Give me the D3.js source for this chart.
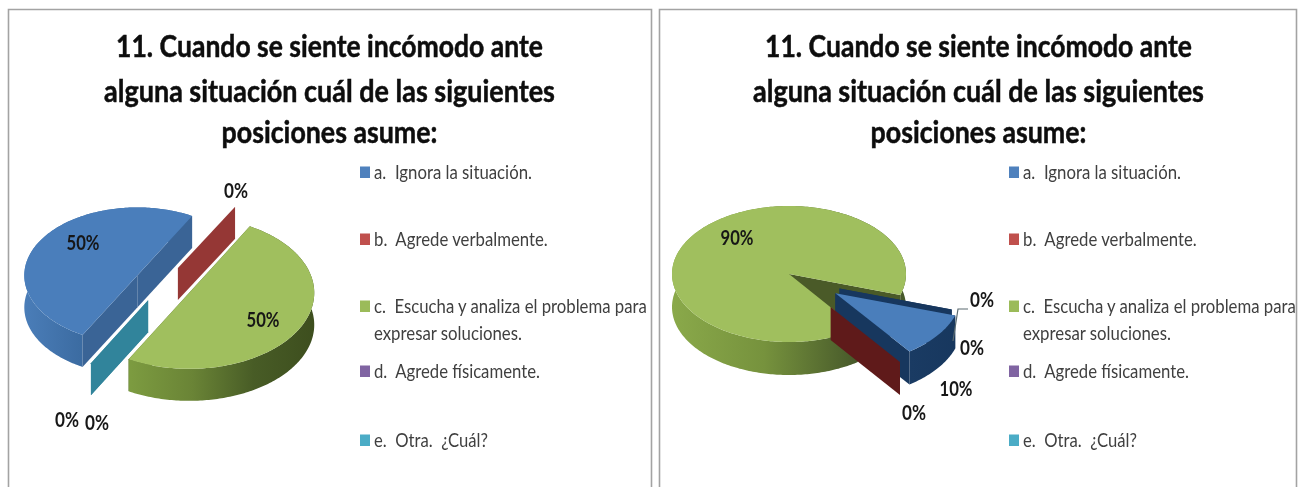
<!DOCTYPE html>
<html><head><meta charset="utf-8">
<script src="https://cdn.jsdelivr.net/npm/d3@7/dist/d3.min.js"></script>
<style>html,body{margin:0;padding:0;background:#fff}svg{display:block}text{font-family:Lato,"Open Sans",sans-serif;white-space:pre}</style>
</head><body><svg id="c" width="1304" height="487"></svg>
<script>
// ---------- data ----------
const titleLines = ["11. Cuando se siente incómodo ante","alguna situación cuál de las siguientes","posiciones asume:"];
const categories = ["a.  Ignora la situación.","b.  Agrede verbalmente.","c.  Escucha y analiza el problema para","d.  Agrede físicamente.","e.  Otra.  ¿Cuál?"];
const categoryContinuation = "expresar soluciones.";
const valuesLeft  = [50,0,50,0,0];
const valuesRight = [10,0,90,0,0];

// ---------- style and layout ----------
const topColors = ["#4a7ebb","#a52f2c","#a0bf5e","#8064a2","#31859c"];
const legendColors = ["#4f81bd","#c0504d","#9bbb59","#8064a2","#4bacc6"];
const svg = d3.select("#c");
const defs = svg.append("defs");
const blur = defs.append("filter").attr("id","soft").attr("x","-5%").attr("y","-20%").attr("width","110%").attr("height","140%");
blur.append("feGaussianBlur").attr("stdDeviation",0.45);

const rad = d => d*Math.PI/180;
const pct = d => d+"%";

function gradient(id,x1,x2,stops){
  const g = defs.append("linearGradient").attr("id",id).attr("gradientUnits","userSpaceOnUse")
    .attr("x1",x1).attr("x2",x2).attr("y1",0).attr("y2",0);
  stops.forEach((c,i)=>g.append("stop").attr("offset",i/(stops.length-1)).attr("stop-color",c));
  return `url(#${id})`;
}

// squeeze a text horizontally to the wanted width, keeping its real extent in the picture
function fit(sel,x,y,width){
  const n = sel.node().getComputedTextLength();
  sel.attr("transform",`translate(${x},${y}) scale(${width/n},1)`);
  return sel;
}

const charts = [
 {values:valuesLeft, first:209, cx:163, cy:284, depth:32, dx:0,
  explode:[.26,.26,.24,.26,.26], nudge:[0,0,0,0,0], rx:[113,118,125,118,118], ry:[68,70,76,72,72],
  order:[0,1,2,3,4],
  wall:["#3a6496","#953735","#4f6428","#31849b","#31849b"],
  band:()=>[gradient("lb",25,80,["#4a7db8","#3c6ca2"]),null,gradient("lg",131,315,["#7c9b40","#6a8436","#485c26","#3d4e1e"])],
  labels:[{v:0,x:83,y:250},{v:1,x:236,y:198},{v:2,x:263,y:327},{v:3,x:67,y:427},{v:4,x:97,y:430}]},
 {values:valuesRight, first:108, cx:789, cy:274, depth:33, dx:649,
  explode:[.455,.6,0,.45,.45], nudge:[0,0,0,5,5], rx:[126,118,117,118,118], ry:[72,68,68,68,68],
  order:[2,3,4,0,1],
  wall:["#17375e","#5f1a1a","#4a5a28","#17375e","#17375e"],
  band:()=>[gradient("rb",910,960,["#1a3b63","#17375e"]),null,gradient("rg",672,857,["#8aa94a","#76923d","#47592a"])],
  leader:{v:[[968,309],[958,309],[953,341]]},
  labels:[{v:2,x:737,y:245},{v:3,x:982,y:307},{v:4,x:972,y:355},{v:0,x:956,y:396},{v:1,x:914,y:420}]}
];

const titleWidths = [427,451,216];
const titleBaselines = [57,102,143];
const legendBaselines = [179,246,313,378,447];
const legendWidths = [158,174,273,166,114];
const contWidth = 148, contBaseline = 340;

const line = d3.line();

charts.forEach((ch,ci)=>{
  const g = svg.append("g");
  const dx = ch.dx;
  // panel frame
  const panelX = ci===0 ? 8.5 : 659.5, panelW = ci===0 ? 643 : 637;
  g.append("path").attr("d",line([[panelX,492],[panelX,9.5],[panelX+panelW,9.5],[panelX+panelW,492]]))
    .attr("fill","none").attr("stroke","#a3a3a3").attr("stroke-width",1.6);

  // title
  titleLines.forEach((t,i)=>{
    const s = g.append("text").attr("text-anchor","middle")
      .attr("font-size",31).attr("font-weight",700).attr("fill","#0c0c0c")
      .attr("stroke","#0c0c0c").attr("stroke-width",0.5)
      .attr("filter","url(#soft)").text(t);
    fit(s,329.5+dx,titleBaselines[i],titleWidths[i]);
  });

  // legend
  categories.forEach((t,i)=>{
    g.append("rect").attr("x",360+dx).attr("y",legendBaselines[i]-12.5).attr("width",10).attr("height",11.5).attr("fill",legendColors[i]);
    const s = g.append("text").attr("font-size",19.5).attr("fill","#3f3f3f").attr("filter","url(#soft)").text(t);
    fit(s,374+dx,legendBaselines[i],legendWidths[i]);
  });
  const c2 = g.append("text").attr("font-size",19.5).attr("fill","#3f3f3f").attr("filter","url(#soft)").text(categoryContinuation);
  fit(c2,374+dx,contBaseline,contWidth);

  // pie geometry from d3.pie
  const arcs = d3.pie().sort(null).value(d=>d)
    .startAngle(rad(ch.first)).endAngle(rad(ch.first)+2*Math.PI)(ch.values);
  const bands = ch.band();

  const x = d3.scaleLinear().domain([-1,1]);
  const y = d3.scaleLinear().domain([-1,1]);

  ch.order.forEach(i=>{
    const a = arcs[i];
    const mid = (a.startAngle+a.endAngle)/2;
    const ox = ch.cx + Math.sin(mid)*ch.explode[i]*ch.rx[i];
    const oy = ch.cy - Math.cos(mid)*ch.explode[i]*ch.ry[i] + ch.nudge[i];
    x.range([ox-ch.rx[i],ox+ch.rx[i]]);
    y.range([oy-ch.ry[i],oy+ch.ry[i]]);
    const P = t=>[x(Math.sin(t)),y(-Math.cos(t))];
    const apex = [x(0),y(0)];
    const down = p=>[p[0],p[1]+ch.depth];
    const wall = t=>line([apex,P(t),down(P(t)),down(apex)])+"Z";
    if(a.value===0){
      g.append("path").attr("d",wall(a.startAngle)).attr("fill",ch.wall[i]);
      return;
    }
    // a cut wall faces the viewer when the slice lies above it on screen
    const m = P(mid);
    const facing = t=>{
      const p = P(t), ex = p[0]-apex[0], ey = p[1]-apex[1];
      let nx = -ey, ny = ex;
      if(ny<0){nx=-nx;ny=-ny;}
      return nx*(m[0]-apex[0])+ny*(m[1]-apex[1])<0;
    };
    const ts = d3.range(a.startAngle,a.endAngle,rad(1)).concat([a.endAngle]);
    const rim = ts.map(P);
    const cuts = [a.startAngle,a.endAngle];
    cuts.filter(t=>!facing(t)).forEach(t=>g.append("path").attr("d",wall(t)).attr("fill",ch.wall[i]));
    g.append("path").attr("d",line(rim.concat(rim.map(down).reverse()))+"Z").attr("fill",bands[i]);
    cuts.filter(facing).forEach(t=>g.append("path").attr("d",wall(t)).attr("fill",ch.wall[i]));
    g.append("path").attr("d",line([apex].concat(rim))+"Z").attr("fill",topColors[i]);
  });

  if(ch.leader){
    g.append("path").attr("d",line(ch.leader.v)).attr("fill","none").attr("stroke","#5a6a70").attr("stroke-width",1.2);
  }

  // data labels
  ch.labels.forEach(l=>{
    const s = g.append("text").attr("text-anchor","middle")
      .attr("font-size",20).attr("font-weight",700).attr("fill","#151515")
      .attr("filter","url(#soft)").text(pct(ch.values[l.v]));
    fit(s,l.x,l.y,ch.values[l.v]>0?33:24);
  });
});
</script></body></html>
